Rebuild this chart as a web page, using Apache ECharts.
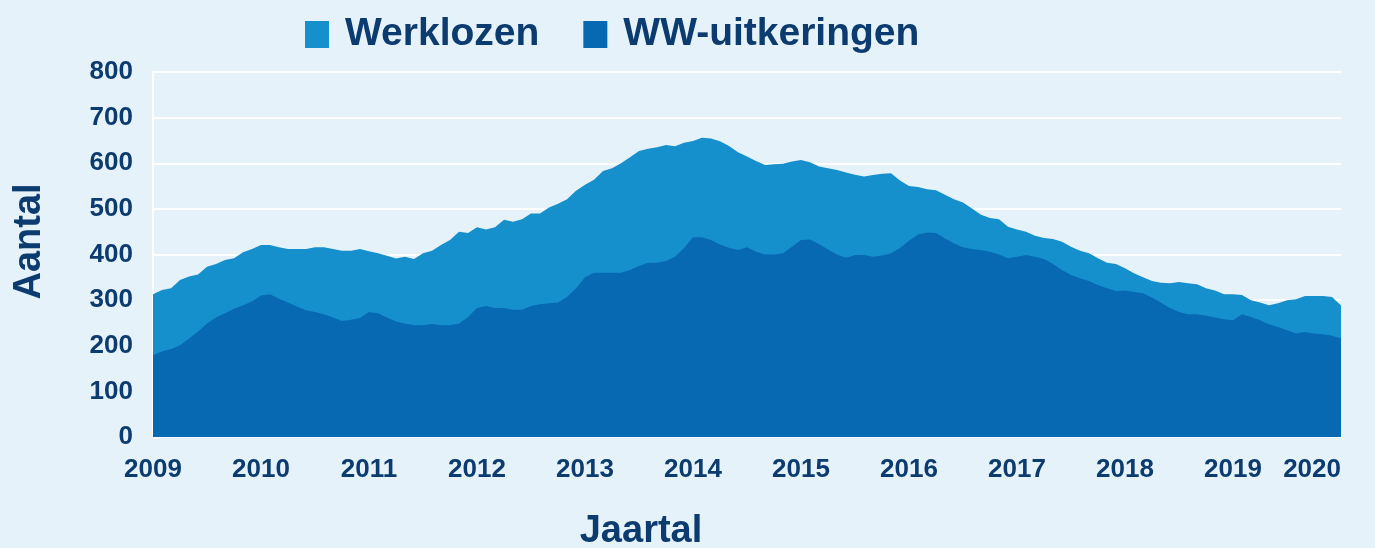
<!DOCTYPE html>
<html>
<head>
<meta charset="utf-8">
<script src="https://cdn.jsdelivr.net/npm/echarts@6/dist/echarts.min.js"></script>
<style>
  html, body { margin: 0; padding: 0; background: #e6f2f9; }
  #chart { width: 1375px; height: 548px; }
</style>
</head>
<body>
<div id="chart"></div>
<script>
// Tick labels (years) — monthly categories Jan 2009 .. Jan 2020
const years = ['2009','2010','2011','2012','2013','2014','2015','2016','2017','2018','2019','2020'];
const yTicks = [0, 100, 200, 300, 400, 500, 600, 700, 800];

// Werklozen (monthly, Jan 2009 .. Jan 2020)
const werklozen = [
  313, 322, 326, 344, 352, 356, 373, 379, 388, 392, 405, 412,
  421, 421, 416, 412, 412, 412, 416, 416, 412, 408, 408, 412,
  407, 403, 397, 391, 395, 390, 403, 408, 421, 432, 450, 447,
  460, 455, 460, 476, 472, 477, 490, 490, 503, 511, 521, 540,
  553, 564, 583, 589, 600, 613, 627, 632, 635, 640, 637, 645,
  649, 656, 654, 648, 638, 624, 615, 605, 596, 598, 599, 604,
  607, 602, 593, 589, 585, 580, 575, 571, 574, 577, 578, 562,
  550, 548, 543, 541, 531, 521, 514, 501, 487, 480, 477, 461,
  455, 450, 441, 436, 434, 428, 417, 408, 403, 392, 382, 379,
  370, 359, 350, 342, 338, 337, 340, 337, 335, 326, 321, 313,
  313, 311, 300, 295, 289, 293, 300, 302, 309, 309, 309, 307,
  288
];

// WW-uitkeringen (monthly, Jan 2009 .. Jan 2020)
const wwUitkeringen = [
  179, 188, 193, 201, 216, 231, 249, 262, 271, 281, 289, 297,
  310, 313, 303, 295, 286, 278, 274, 269, 262, 254, 257, 261,
  274, 271, 262, 253, 249, 245, 245, 248, 245, 245, 249, 263,
  283, 287, 283, 283, 279, 279, 287, 291, 293, 295, 307, 326,
  350, 360, 360, 360, 360, 366, 375, 382, 382, 386, 395, 414,
  438, 438, 432, 422, 415, 410, 416, 406, 400, 400, 403, 417,
  432, 433, 423, 411, 400, 393, 399, 399, 395, 398, 403, 414,
  430, 444, 448, 447, 435, 424, 416, 412, 410, 406, 400, 392,
  395, 399, 395, 390, 379, 366, 355, 348, 342, 333, 326, 320,
  321, 318, 315, 306, 294, 283, 274, 269, 269, 266, 262, 258,
  256, 269, 263, 256, 247, 241, 234, 227, 230, 227, 225, 222,
  216
];

// Build monthly category labels from the years list
const categories = [];
years.forEach((y, yi) => {
  const months = (yi === years.length - 1) ? 1 : 12;
  for (let m = 1; m <= months; m++) categories.push(y + '-' + String(m).padStart(2, '0'));
});

const textColor = '#0b3b6f';
const font = '"Liberation Sans", Arial, sans-serif';

const chart = echarts.init(document.getElementById('chart'), null, { renderer: 'canvas' });
chart.setOption({
  backgroundColor: '#e6f2f9',
  animation: false,
  textStyle: { fontFamily: font },
  legend: {
    top: 10,
    left: 300,
    itemWidth: 24,
    itemHeight: 27,
    itemGap: 44,
    icon: 'rect',
    textStyle: { color: textColor, fontSize: 39, fontWeight: 'bold', fontFamily: font, padding: [0, 0, 0, 11] },
    data: ['Werklozen', 'WW-uitkeringen']
  },
  grid: { left: 153, right: 34, top: 72, bottom: 111, containLabel: false, outerBoundsMode: 'none' },
  xAxis: {
    type: 'category',
    boundaryGap: false,
    data: categories,
    name: 'Jaartal',
    nameLocation: 'middle',
    nameGap: 76,
    nameTextStyle: { color: textColor, fontSize: 38, fontWeight: 'bold', fontFamily: font, padding: [0, 212, 0, 0] },
    axisLine: { show: true, lineStyle: { color: '#ffffff', width: 2 } },
    axisTick: { show: false },
    axisLabel: {
      color: textColor, fontSize: 26, fontWeight: 'bold', fontFamily: font, margin: 20,
      interval: (idx) => idx % 12 === 0,
      formatter: (v) => v.slice(0, 4),
      alignMaxLabel: 'right'
    },
    splitLine: { show: false }
  },
  yAxis: {
    type: 'value',
    min: yTicks[0],
    max: yTicks[yTicks.length - 1],
    interval: 100,
    name: 'Aantal',
    nameLocation: 'middle',
    nameGap: 104,
    nameRotate: 90,
    nameTextStyle: { color: textColor, fontSize: 38, fontWeight: 'bold', fontFamily: font, padding: [0, 0, 0, 26] },
    axisLine: { show: true, lineStyle: { color: '#ffffff', width: 2 } },
    axisTick: { show: false },
    axisLabel: { color: textColor, fontSize: 26, fontWeight: 'bold', fontFamily: font, margin: 20 },
    splitLine: { show: true, lineStyle: { color: '#ffffff', width: 2 } }
  },
  series: [
    {
      name: 'Werklozen',
      type: 'line',
      data: werklozen,
      showSymbol: false,
      symbol: 'none',
      lineStyle: { width: 0 },
      itemStyle: { color: '#1690cd' },
      areaStyle: { color: '#1690cd', opacity: 1 },
      z: 2
    },
    {
      name: 'WW-uitkeringen',
      type: 'line',
      data: wwUitkeringen,
      showSymbol: false,
      symbol: 'none',
      lineStyle: { width: 0 },
      itemStyle: { color: '#0869b3' },
      areaStyle: { color: '#0869b3', opacity: 1 },
      z: 3
    }
  ]
});
</script>
</body>
</html>
